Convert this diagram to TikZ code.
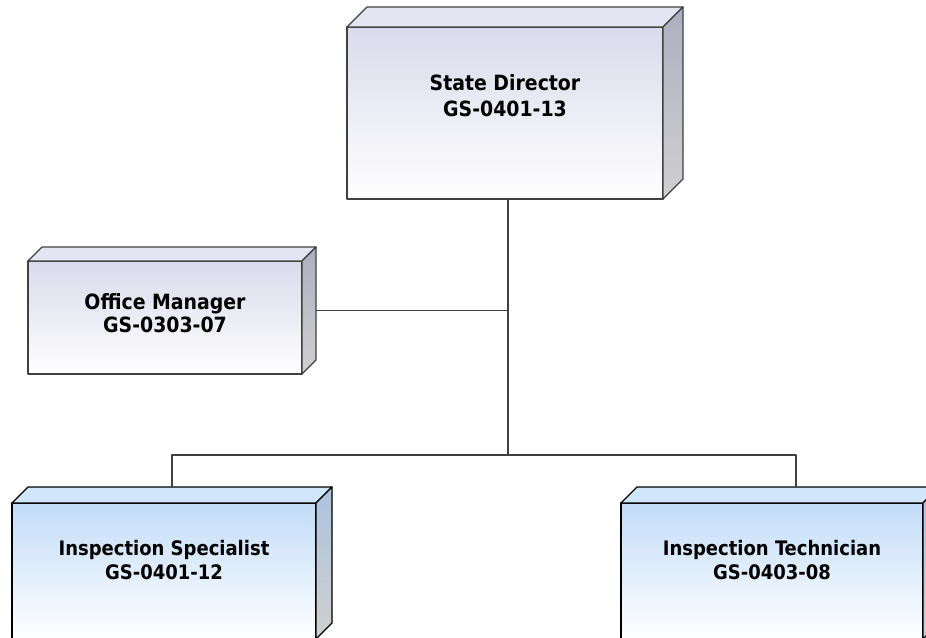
\documentclass[tikz,border=0pt]{standalone}
\usepackage{fontspec}
\setmainfont{DejaVu Sans Condensed}
\usetikzlibrary{calc}
\definecolor{lavtop}{RGB}{218,218,236}
\definecolor{lavlid}{RGB}{228,228,242}
\definecolor{lavside}{RGB}{174,174,192}
\definecolor{bluetop}{RGB}{194,220,248}
\definecolor{bluelid}{RGB}{208,230,250}
\definecolor{blueside}{RGB}{172,196,222}
\definecolor{sidelow}{RGB}{208,208,208}
\definecolor{edgegray}{RGB}{64,64,64}

\tikzset{
    post/.style={draw=edgegray, line width=1.3pt, top color=lavtop, bottom color=white,
        inner sep=0pt, outer sep=0pt, align=center},
    bluepost/.style={post, draw=black, line width=2pt, top color=bluetop},
    wire/.style={draw=edgegray, line width=1.3pt}
}

\begin{document}
\begin{tikzpicture}[x=1pt, y=-1pt, line join=round]
    \useasboundingbox (0,0) rectangle (926,637);
    \begin{scope}
        % front faces
        \node[post, minimum width=316, minimum height=172, text depth=34.3,
            font=\fontsize{21}{25.7}\selectfont\bfseries] (dir) at (505,113)
            {State Director\\GS-0401-13};
        \node[post, minimum width=274, minimum height=113, text depth=8.5,
            font=\fontsize{21}{23.5}\selectfont\bfseries] (mgr) at (165,317.5)
            {Office Manager\\GS-0303-07};
        \node[bluepost, minimum width=304, minimum height=136, text depth=22.2,
            font=\fontsize{20}{23.6}\selectfont\bfseries] (spec) at (164,571)
            {Inspection Specialist\\GS-0401-12};
        \node[bluepost, minimum width=302, minimum height=136, text depth=22.2,
            font=\fontsize{20}{23.6}\selectfont\bfseries] (tech) at (772,571)
            {Inspection Technician\\GS-0403-08};
        % lids and sides
        \foreach \n/\d/\c/\e in {dir/20/lav/edgegray, mgr/14/lav/edgegray, spec/16/blue/black, tech/16/blue/black} {
            \draw[draw=\e, line width=1.3pt, fill=\c lid] (\n.north west) -- ++(\d,-\d)
                -- ($(\n.north east)+(\d,-\d)$) -- (\n.north east) -- cycle;
            \draw[draw=\e, line width=1.3pt, top color=\c side, bottom color=sidelow] (\n.north east)
                -- ++(\d,-\d) -- ($(\n.south east)+(\d,-\d)$) -- (\n.south east) -- cycle;
        }
        % connectors
        \coordinate (hub) at (508,455);
        \draw[wire] (hub |- dir.south) -- (hub);
        \draw[wire] ($(mgr.east)+(14,-7)$) -- (hub |- {$(mgr.east)+(14,-7)$});
        \draw[wire] ($(spec.north)+(8,-16)$) |- (hub) -| ($(tech.north)+(24,-16)$);
    \end{scope}
\end{tikzpicture}
\end{document}
